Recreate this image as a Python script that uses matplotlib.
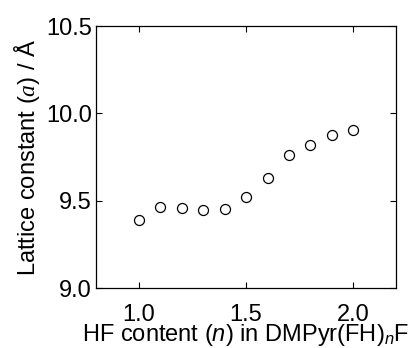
import matplotlib
matplotlib.use('Agg')
import matplotlib.pyplot as plt

plt.rcParams['font.family'] = ['Liberation Sans', 'DejaVu Sans']
plt.rcParams['mathtext.fontset'] = 'custom'
plt.rcParams['mathtext.rm'] = 'Liberation Sans'
plt.rcParams['mathtext.it'] = 'Liberation Serif:italic'
plt.rcParams['mathtext.sf'] = 'Liberation Sans:italic'

# HF content n and lattice constant a (Å)
hf_content = [1.0, 1.1, 1.2, 1.3, 1.4, 1.5, 1.6, 1.7, 1.8, 1.9, 2.0]
lattice_a = [9.39, 9.462, 9.46, 9.445, 9.452, 9.523, 9.630, 9.763, 9.820, 9.874, 9.906]

x_ticks = [1.0, 1.5, 2.0]
y_ticks = [9.0, 9.5, 10.0, 10.5]

fig = plt.figure(figsize=(4.14, 3.48), dpi=100)
ax = fig.add_axes([0.232, 0.172, 0.725, 0.753])

ax.plot(hf_content, lattice_a, 'o', ms=7.2, mfc='white', mec='black', mew=0.9)

ax.set_xlim(0.8, 2.2)
ax.set_ylim(9.0, 10.5)
ax.set_xticks(x_ticks)
ax.set_yticks(y_ticks)
ax.set_xticklabels([f'{v:.1f}' for v in x_ticks])
ax.set_yticklabels([f'{v:.1f}' for v in y_ticks])
ax.tick_params(direction='in', top=True, right=True, length=4, width=0.8,
               labelsize=17, colors='black')
ax.tick_params(axis='x', pad=11.5)
ax.tick_params(axis='y', pad=3)
for s in ax.spines.values():
    s.set_linewidth(0.9)

ax.set_xlabel(r'HF content ($\mathsf{n}$) in DMPyr(FH)$_\mathsf{n}$F', fontsize=17, labelpad=-3)
ax.set_ylabel(r'Lattice constant ($\mathit{a}$) / Å', fontsize=17, labelpad=3)

fig.savefig('out.png', dpi=100)
